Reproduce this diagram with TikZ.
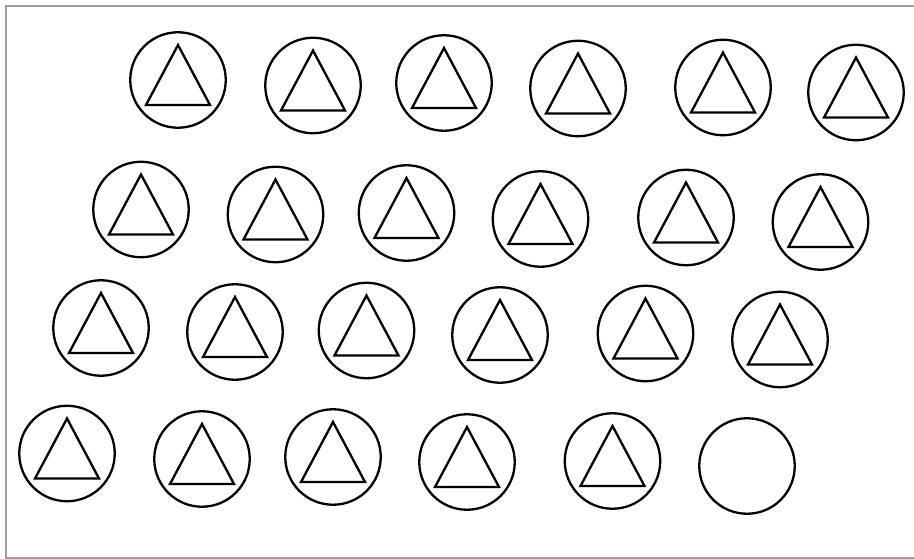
\documentclass[tikz,border=0pt]{standalone}
\usetikzlibrary{calc}
\begin{document}
\begin{tikzpicture}[x=1pt,y=-1pt,
  ring/.style={circle,draw,line width=2.3pt,minimum size=95.5pt,inner sep=0pt},
  tri/.style={line width=2.3pt,line join=miter}]
\useasboundingbox (0,0) rectangle (914,559);
\coordinate (tr) at (914,6);
\coordinate (tl) at (5.5,6);
\coordinate (bl) at (5.5,557.5);
\coordinate (br) at (914,557.5);
\draw[gray!75,line width=2pt] (tr) -- (tl) -- (bl) -- (br);
\foreach \n/\x/\y in {
  a1/178/80, a2/313/85.5, a3/444/83, a4/578/88.5, a5/723/87.5, a6/856/92.5,
  b1/141/209.5, b2/275.5/214.5, b3/406.5/213, b4/540.5/219, b5/686/217.5, b6/820.5/222,
  c1/101/328, c2/235/332, c3/366.5/330.5, c4/500/335, c5/645.5/333.5, c6/780/339.5,
  d1/67/453.5, d2/202/459, d3/333/457, d4/467/462, d5/612.5/461} {
  \node[ring] (\n) at (\x,\y) {};
  \draw[tri] ($(\n.center)+(0,-35)$) -- ($(\n.center)+(32,25)$) -- ($(\n.center)+(-32,25)$) -- cycle;
}
\node[ring] (d6) at (747,466) {};
\end{tikzpicture}
\end{document}
